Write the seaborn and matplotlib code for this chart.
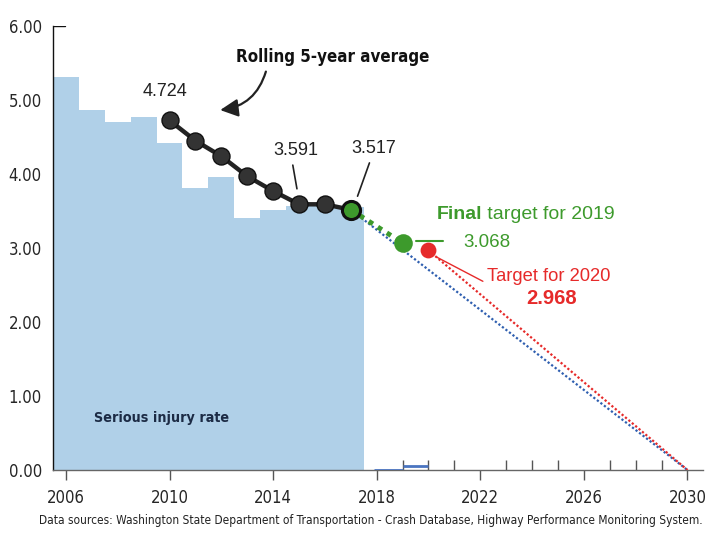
import matplotlib
matplotlib.use("Agg")
import matplotlib.pyplot as plt
import seaborn as sns
import pandas as pd

# Serious injury rate per year (bars)
years = [2006, 2007, 2008, 2009, 2010, 2011, 2012, 2013, 2014, 2015, 2016, 2017]
injury_rate = [5.31, 4.86, 4.70, 4.77, 4.42, 3.81, 3.96, 3.40, 3.52, 3.57, 3.58, 3.55]

# Rolling 5-year average
avg_years = [2010, 2011, 2012, 2013, 2014, 2015, 2016, 2017]
avg_values = [4.724, 4.45, 4.24, 3.97, 3.77, 3.591, 3.59, 3.517]

# Targets
target_2019 = 3.068
target_2020 = 2.968
goal_year = 2030
goal_value = 0.0

# small marks on the axis after 2017
mark_start = [2017.9, 2019.0]
mark_end = [2019.0, 2020.0]
mark_values = [0.0, 0.06]

sns.set_theme(style="white")
plt.rcParams["font.family"] = ["DejaVu Sans"]
NARROW = dict(family=["DejaVu Sans"], fontstretch="condensed")
REG = dict(family=["Liberation Sans", "DejaVu Sans"])

GREEN = "#3d9a2c"
RED = "#e62a2a"
BLUE = "#2f5fb0"
BAR = "#b0d0e8"

fig = plt.figure(figsize=(7.2, 5.35), dpi=100)
ax = fig.add_axes([53 / 720, 65 / 535, 650 / 720, 444 / 535])

bars = pd.DataFrame({"year": years, "rate": injury_rate})
sns.barplot(data=bars, x="year", y="rate", native_scale=True, width=1.0,
            color=BAR, saturation=1, errorbar=None, linewidth=0, ax=ax, zorder=1)

# projection lines
sns.lineplot(x=[avg_years[-1], goal_year], y=[avg_values[-1], goal_value], color=BLUE,
             lw=1.6, linestyle=(0, (1, 1)), ax=ax, zorder=3)
sns.lineplot(x=[2020, goal_year], y=[target_2020, goal_value], color=RED,
             lw=1.6, linestyle=(0, (1, 1)), ax=ax, zorder=3)
sns.lineplot(x=[avg_years[-1], 2019], y=[avg_values[-1], target_2019], color=GREEN,
             lw=3.5, linestyle=(0, (1, 1.2)), ax=ax, zorder=4)

# rolling average
sns.lineplot(x=avg_years, y=avg_values, color="#232323", lw=3.2, ax=ax, zorder=5)
sns.scatterplot(x=avg_years[:-1], y=avg_values[:-1], color="#333333", s=150,
                edgecolor="#111111", linewidth=1, ax=ax, zorder=6)
sns.scatterplot(x=[avg_years[-1]], y=[avg_values[-1]], color=GREEN, s=170,
                edgecolor="#111111", linewidth=2.2, ax=ax, zorder=7)
sns.scatterplot(x=[2019], y=[target_2019], color=GREEN, s=180, edgecolor=GREEN,
                linewidth=0, ax=ax, zorder=7)
sns.scatterplot(x=[2020], y=[target_2020], color=RED, s=130, edgecolor=RED,
                linewidth=0, ax=ax, zorder=7)

ax.hlines(mark_values, mark_start, mark_end, color="#4a74c0", lw=2, zorder=3)

# axes styling
ax.set_xlim(2005.5, 2030.6)
ax.set_ylim(0, 6)
ax.set_xlabel("")
ax.set_ylabel("")
ax.set_axisbelow(True)
for s in ["top", "right"]:
    ax.spines[s].set_visible(False)
ax.spines["left"].set_color("#111111")
ax.spines["left"].set_linewidth(1)
ax.spines["bottom"].set_color("#666666")
ax.spines["bottom"].set_linewidth(1)
ax.axhline(6, xmin=0, xmax=0.018, color="#111111", lw=1)

ax.set_xticks(range(2006, 2031, 4))
ax.set_xticks(range(2006, 2031), minor=True)
ax.set_xticklabels([str(y) for y in range(2006, 2031, 4)], fontsize=12, **NARROW)
ax.tick_params(axis="x", which="major", direction="out", length=7, width=1,
               color="#555555", pad=7, bottom=True)
ax.tick_params(axis="x", which="minor", direction="in", length=7, width=1,
               color="#555555", bottom=True)
ax.set_yticks([0, 1, 2, 3, 4, 5, 6])
ax.set_yticklabels(["0.00", "1.00", "2.00", "3.00", "4.00", "5.00", "6.00"],
                   fontsize=12, **NARROW)
ax.tick_params(axis="y", length=0, pad=8)

# annotations
ax.text(2016.3, 5.58, "Rolling 5-year average", fontsize=12.2, fontweight="bold",
        ha="center", va="center", color="#111111", **NARROW)
ax.annotate("", xy=(2011.85, 4.86), xytext=(2013.75, 5.42),
            arrowprops=dict(arrowstyle="-|>,head_length=0.9,head_width=0.45",
                            connectionstyle="arc3,rad=-0.35", color="#222222", lw=1.6))
ax.text(2009.82, 5.11, "4.724", fontsize=13, ha="center", va="center",
        color="#222222", **REG)
ax.text(2014.88, 4.32, "3.591", fontsize=13, ha="center", va="center",
        color="#222222", **REG)
ax.plot([2014.76, 2014.92], [4.12, 3.80], color="#222222", lw=1.2)
ax.text(2017.89, 4.35, "3.517", fontsize=13, ha="center", va="center",
        color="#222222", **REG)
ax.plot([2017.72, 2017.26], [4.15, 3.70], color="#222222", lw=1.2)

final = ax.text(2020.32, 3.45, "Final", fontsize=14, fontweight="bold",
                ha="left", va="center", color=GREEN, **REG)
ax.annotate(" target for 2019", xy=(1, 0.5), xycoords=final, fontsize=14,
            ha="left", va="center", color=GREEN, **REG)
ax.plot([2019.5, 2020.55], [3.10, 3.10], color=GREEN, lw=1.5)
ax.text(2021.33, 3.08, "3.068", fontsize=13.5, ha="left", va="center",
        color=GREEN, **REG)

ax.plot([2020.3, 2022.1], [2.88, 2.55], color=RED, lw=1.0)
ax.text(2022.25, 2.62, "Target for 2020", fontsize=13.2, ha="left",
        va="center", color=RED, **REG)
ax.text(2024.76, 2.32, "2.968", fontsize=14.5, fontweight="bold",
        ha="center", va="center", color=RED, **REG)

ax.text(2007.1, 0.70, "Serious injury rate", fontsize=10.3, fontweight="bold",
        ha="left", va="center", color="#1c2b45", **NARROW)

fig.text(0.515, 0.028, "Data sources: Washington State Department of Transportation - "
         "Crash Database, Highway Performance Monitoring System.", fontsize=8.6,
         ha="center", va="center", color="#222222", **NARROW)

fig.savefig("out.png", dpi=100)
